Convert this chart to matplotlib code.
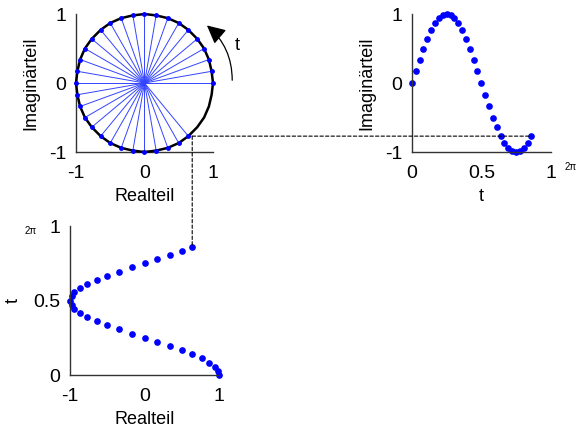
import matplotlib.pyplot as plt
from matplotlib.patches import ConnectionPatch
from matplotlib.transforms import blended_transform_factory

plt.rcParams['font.family'] = ['Liberation Sans', 'DejaVu Sans']
plt.rcParams['axes.unicode_minus'] = False

# t in units of 2*pi (step 1/36)
t = [0.0, 0.028, 0.056, 0.083, 0.111, 0.139, 0.167, 0.194, 0.222, 0.25,
     0.278, 0.306, 0.333, 0.361, 0.389, 0.417, 0.444, 0.472, 0.5, 0.528,
     0.556, 0.583, 0.611, 0.639, 0.667, 0.694, 0.722, 0.75, 0.778, 0.806,
     0.833, 0.861]
re = [1.0, 0.98, 0.94, 0.87, 0.77, 0.64, 0.5, 0.34, 0.17, 0.0,
      -0.17, -0.34, -0.5, -0.64, -0.77, -0.87, -0.94, -0.98, -1.0, -0.98,
      -0.94, -0.87, -0.77, -0.64, -0.5, -0.34, -0.17, 0.0, 0.17, 0.34,
      0.5, 0.64]
im = [0.0, 0.17, 0.34, 0.5, 0.64, 0.77, 0.87, 0.94, 0.98, 1.0,
      0.98, 0.94, 0.87, 0.77, 0.64, 0.5, 0.34, 0.17, 0.0, -0.17,
      -0.34, -0.5, -0.64, -0.77, -0.87, -0.94, -0.98, -1.0, -0.98, -0.94,
      -0.87, -0.77]

# full unit circle outline (every 10 degrees)
circ_re = [1.0, 0.98, 0.94, 0.87, 0.77, 0.64, 0.5, 0.34, 0.17, 0.0,
           -0.17, -0.34, -0.5, -0.64, -0.77, -0.87, -0.94, -0.98, -1.0, -0.98,
           -0.94, -0.87, -0.77, -0.64, -0.5, -0.34, -0.17, 0.0, 0.17, 0.34,
           0.5, 0.64, 0.77, 0.87, 0.94, 0.98, 1.0]
circ_im = [0.0, 0.17, 0.34, 0.5, 0.64, 0.77, 0.87, 0.94, 0.98, 1.0,
           0.98, 0.94, 0.87, 0.77, 0.64, 0.5, 0.34, 0.17, 0.0, -0.17,
           -0.34, -0.5, -0.64, -0.77, -0.87, -0.94, -0.98, -1.0, -0.98, -0.94,
           -0.87, -0.77, -0.64, -0.5, -0.34, -0.17, 0.0]

BLUE = "#0000ff"
FS = 14
LFS = 13

fig = plt.figure(figsize=(5.81, 4.30), dpi=100)
ax1 = fig.add_axes([0.1308, 0.6465, 0.2358, 0.3209])
ax2 = fig.add_axes([0.7091, 0.6465, 0.2387, 0.3209])
ax3 = fig.add_axes([0.1205, 0.1279, 0.2565, 0.3465])


def style(ax):
    for s in ("top", "right"):
        ax.spines[s].set_visible(False)
    for s in ("left", "bottom"):
        ax.spines[s].set_color("#333333")
        ax.spines[s].set_linewidth(1.0)
    ax.tick_params(axis="x", length=0, pad=9, labelsize=FS)
    ax.tick_params(axis="y", length=0, pad=7, labelsize=FS)


# unit circle with spokes
for x, y in zip(re, im):
    ax1.plot([0, x], [0, y], color="#3344ff", lw=0.7)
ax1.plot(circ_re, circ_im, color="black", lw=1.8, clip_on=False, zorder=3)
ax1.plot(re, im, "o", color=BLUE, ms=2.5, clip_on=False, zorder=4)
ax1.set_xlim(-1, 1)
ax1.set_ylim(-1, 1)
ax1.set_xticks([-1, 0, 1])
ax1.set_yticks([-1, 0, 1])
ax1.set_xlabel("Realteil", fontsize=LFS, labelpad=5)
ax1.set_ylabel("Imaginärteil", fontsize=LFS, labelpad=7)
style(ax1)
ax1.annotate("", xy=(0.88, 0.86), xytext=(1.28, 0.0), xycoords="data",
             arrowprops=dict(arrowstyle="-|>,head_length=0.8,head_width=0.4",
                             color="black", lw=0.9, mutation_scale=14,
                             connectionstyle="arc3,rad=0.25"),
             annotation_clip=False)
ax1.text(1.32, 0.55, "t", fontsize=LFS, ha="left", va="center")

# imaginary part over t
ax2.plot(t, im, "o", color=BLUE, ms=3.8, clip_on=False)
ax2.set_xlim(0, 1)
ax2.set_ylim(-1, 1)
ax2.set_xticks([0, 0.5, 1])
ax2.set_xticklabels(["0", "0.5", "1"])
ax2.set_yticks([-1, 0, 1])
ax2.set_xlabel("t", fontsize=LFS, labelpad=5)
ax2.set_ylabel("Imaginärteil", fontsize=LFS, labelpad=7)
style(ax2)
ax2.text(1.1, -1.14, "2π", fontsize=7, ha="left", va="top")

# real part over t
ax3.plot(re, t, "o", color=BLUE, ms=3.8, clip_on=False)
ax3.set_xlim(-1, 1)
ax3.set_ylim(0, 1)
ax3.set_xticks([-1, 0, 1])
ax3.set_yticks([0, 0.5, 1])
ax3.set_yticklabels(["0", "0.5", "1"])
ax3.set_xlabel("Realteil", fontsize=LFS, labelpad=5)
ax3.set_ylabel("t", fontsize=LFS, labelpad=8)
style(ax3)
ax3.text(-1.45, 1.0, "2π", fontsize=7, ha="right", va="top")

# dashed guide lines meeting at the last point on the circle
corner = blended_transform_factory(ax3.transData, ax1.transData)
con_h = ConnectionPatch(xyA=(re[-1], im[-1]), coordsA=corner,
                        xyB=(t[-1], im[-1]), coordsB=ax2.transData,
                        color="black", lw=0.8, ls=(0, (3, 2)))
fig.add_artist(con_h)
con_v = ConnectionPatch(xyA=(re[-1], im[-1]), coordsA=corner,
                        xyB=(re[-1], t[-1]), coordsB=ax3.transData,
                        color="black", lw=0.8, ls=(0, (3, 2)))
fig.add_artist(con_v)

fig.savefig("out.png", dpi=100)
